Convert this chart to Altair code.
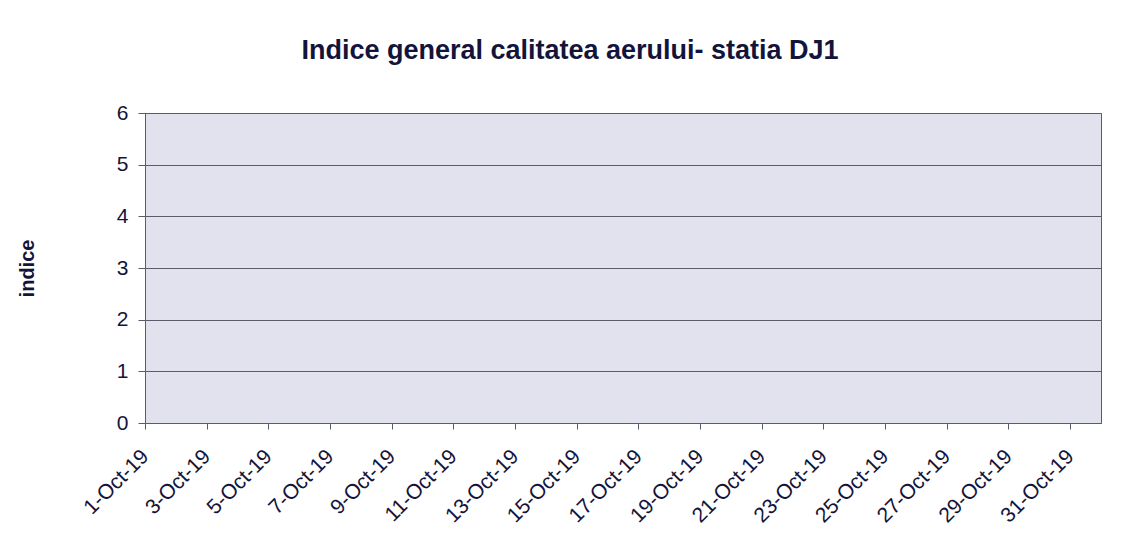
import altair as alt
import pandas as pd

# Days of October 2019 (category axis) and the plotted index values (no values shown in the reference)
days = list(range(1, 32))
index_values = [None] * 31
tick_days = list(range(1, 32, 2))
y_ticks = [0, 1, 2, 3, 4, 5, 6]

df = pd.DataFrame({"day": days, "indice": index_values})

FONT = "Liberation Sans"
TXT = "#14143a"
LINE = "#5a5a6a"

chart = (
    alt.Chart(df)
    .mark_line(color="#1f3a93", strokeWidth=2)
    .encode(
        x=alt.X(
            "day:Q",
            scale=alt.Scale(domain=[1, 32], nice=False, zero=False),
            axis=alt.Axis(
                values=tick_days,
                labelExpr="datum.value + '-Oct-19'",
                labelAngle=-45,
                labelAlign="right",
                labelBaseline="middle",
                labelFontSize=21,
                labelPadding=24,
                labelOverlap=False,
                labelBound=False,
                labelFlush=False,
                tickSize=6,
                grid=False,
                title=None,
            ),
        ),
        y=alt.Y(
            "indice:Q",
            scale=alt.Scale(domain=[0, 6], nice=False),
            axis=alt.Axis(
                values=y_ticks,
                labelFontSize=21,
                labelPadding=10,
                labelOverlap=False,
                tickSize=7,
                grid=True,
                gridColor=LINE,
                gridWidth=1,
                title="indice",
                titleFontSize=20,
                titleFontWeight="bold",
                titleAngle=-90,
                titleX=-118,
                titleY=155,
                titleAlign="center",
                titleBaseline="middle",
            ),
        ),
    )
    .properties(
        width=956,
        height=310,
        background="white",
        autosize=alt.AutoSizeParams(type="none"),
        padding={"left": 137, "top": 105, "right": 20, "bottom": 120},
        title=alt.TitleParams(
            text="Indice general calitatea aerului-  statia DJ1",
            fontSize=27,
            fontWeight="bold",
            font=FONT,
            color=TXT,
            anchor="middle",
            dx=-53,
            offset=37,
        ),
    )
    .configure_view(fill="#e2e2ee", stroke=LINE, strokeWidth=1)
    .configure_axis(
        labelFont=FONT,
        titleFont=FONT,
        labelColor=TXT,
        titleColor=TXT,
        domainColor=LINE,
        tickColor=LINE,
    )
)

chart.save("out.html", embed_options={"renderer": "svg", "actions": False})
